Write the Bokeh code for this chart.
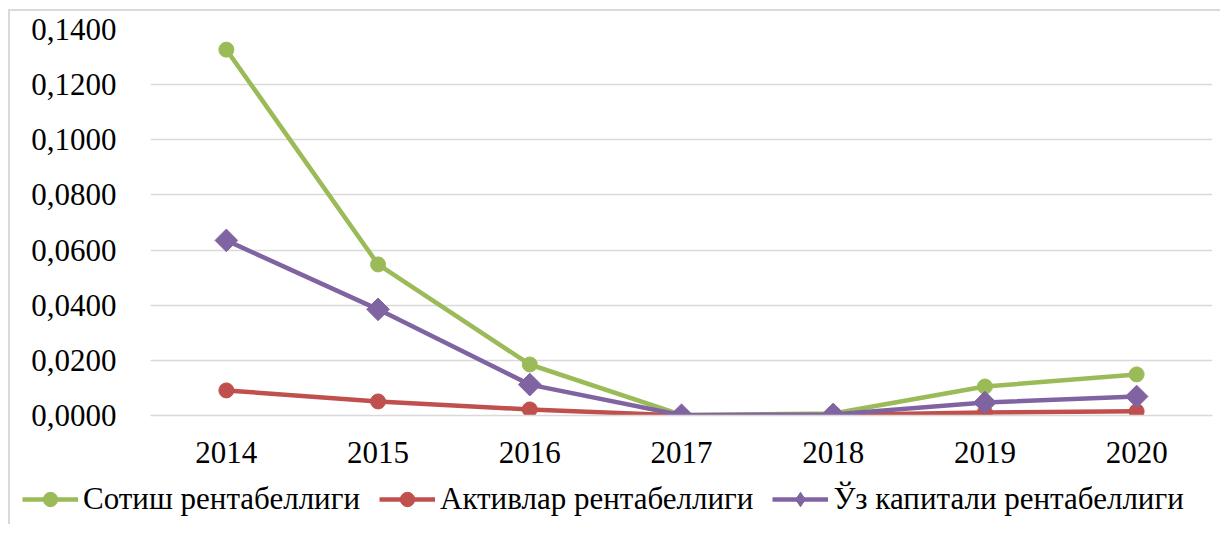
import math
from bokeh.plotting import figure
from bokeh.layouts import column
from bokeh.models import FactorRange, Range1d, FixedTicker, CustomJSTickFormatter, Legend, LegendItem, ColumnDataSource
from bokeh.embed import file_html
from bokeh.resources import INLINE

years = ["2014", "2015", "2016", "2017", "2018", "2019", "2020"]
sales = [0.1327, 0.0548, 0.0185, 0.0002, 0.0007, 0.0105, 0.0149]
assets = [0.0091, 0.0051, 0.0022, 0.0000, 0.0002, 0.0011, 0.0015]
equity = [0.0635, 0.0385, 0.0112, 0.0001, 0.0004, 0.0047, 0.0069]
series_names = ["Сотиш рентабеллиги", "Активлар рентабеллиги", "Ўз капитали рентабеллиги"]
y_ticks = [0.0, 0.02, 0.04, 0.06, 0.08, 0.10, 0.12, 0.14]

FONT = "Liberation Serif"
GREEN = "#9BBB59"
RED = "#C0504D"
PURPLE = "#8064A2"
colors = [GREEN, RED, PURPLE]
markers = [("circle", 15, 0.0), ("circle", 15, 0.0), ("square", 16, math.pi / 4)]
legend_markers = ["circle", "circle", "diamond"]

p = figure(x_range=FactorRange(*years, range_padding=0), y_range=Range1d(0, 0.14),
           width=1210, height=463, output_backend="svg", toolbar_location=None,
           min_border_left=140, min_border_top=18, min_border_right=8, min_border_bottom=59)
p.outline_line_color = None
p.background_fill_color = "white"
p.border_fill_color = "white"

src = ColumnDataSource(dict(x=years, s=sales, a=assets, e=equity))
for col, c, (mk, sz, ang) in zip(["s", "a", "e"], colors, markers):
    p.line("x", col, source=src, line_color=c, line_width=4.5)
    p.scatter("x", col, source=src, marker=mk, size=sz, angle=ang, fill_color=c, line_color=c)

p.yaxis.ticker = FixedTicker(ticks=y_ticks)
p.yaxis.formatter = CustomJSTickFormatter(code="return tick.toFixed(4).replace('.', ',');")
p.yaxis.axis_line_color = None
p.yaxis.major_tick_line_color = None
p.yaxis.minor_tick_line_color = None
p.yaxis.major_label_standoff = 28
p.yaxis.major_label_text_font = FONT
p.yaxis.major_label_text_font_size = "31px"
p.yaxis.major_label_text_color = "black"

p.xaxis.axis_line_color = "#D9D9D9"
p.xaxis.axis_line_width = 1.5
p.xaxis.major_tick_line_color = None
p.xaxis.minor_tick_line_color = None
p.xaxis.major_label_standoff = 20
p.xaxis.major_label_text_font = FONT
p.xaxis.major_label_text_font_size = "31px"
p.xaxis.major_label_text_color = "black"

p.xgrid.grid_line_color = None
p.ygrid.grid_line_color = "#D9D9D9"
p.ygrid.grid_line_width = 1.5

# legend strip below the chart (its renderers are hidden; only the legend shows)
lp = figure(x_range=FactorRange(*years, range_padding=0), y_range=Range1d(0, 0.14),
            width=1210, height=50, output_backend="svg", toolbar_location=None,
            x_axis_location=None, y_axis_location=None,
            min_border_left=0, min_border_right=0, min_border_top=0, min_border_bottom=0)
lp.frame_align = False
lp.outline_line_color = None
lp.xgrid.grid_line_color = None
lp.ygrid.grid_line_color = None
lp.background_fill_color = "white"
lp.border_fill_color = "white"

items = []
for name, col, c, mk in zip(series_names, ["s", "a", "e"], colors, legend_markers):
    rl = lp.line("x", col, source=src, line_color=c, line_width=4.5, visible=False)
    rm = lp.scatter("x", col, source=src, marker=mk, size=15, fill_color=c, line_color=c,
                    visible=False)
    items.append(LegendItem(label=name, renderers=[rl, rm]))

legend = Legend(items=items, orientation="horizontal", location=(12, 7))
legend.label_text_font = FONT
legend.label_text_font_size = "31px"
legend.label_text_color = "black"
legend.border_line_color = None
legend.background_fill_alpha = 0
legend.padding = 0
legend.margin = 0
legend.spacing = 19
legend.label_standoff = 5
legend.glyph_width = 56
legend.glyph_height = 36
legend.label_height = 36
legend.click_policy = "none"
lp.add_layout(legend, "center")

layout = column(p, lp, spacing=0,
                styles={"border-left": "2px solid #d9d9d9", "border-top": "2px solid #d9d9d9",
                        "margin-top": "9px", "margin-left": "8px"})

open("out.html", "w").write(file_html(layout, INLINE))
